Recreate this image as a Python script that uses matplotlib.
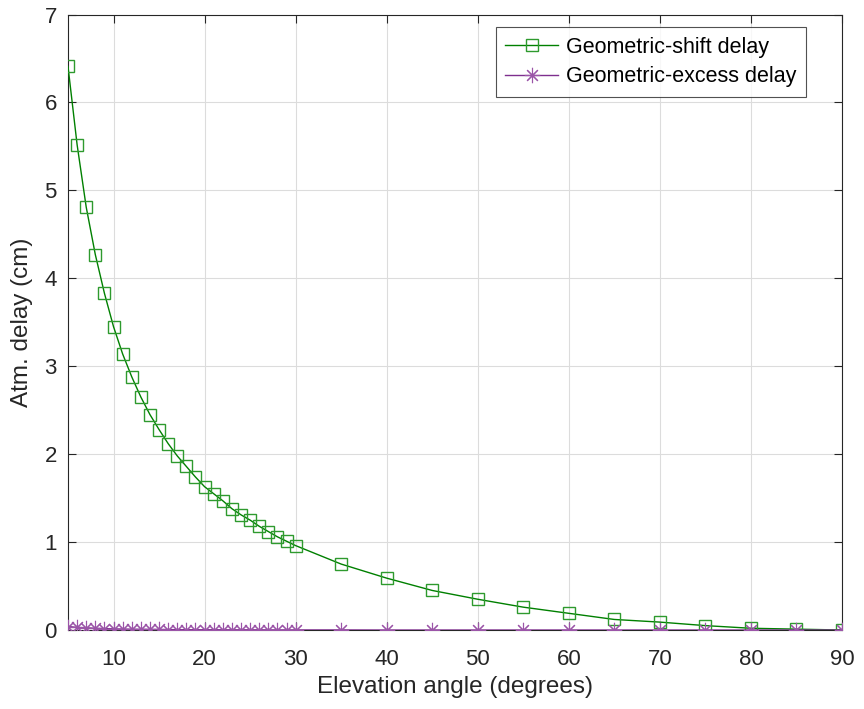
import matplotlib
matplotlib.use("Agg")
import matplotlib.pyplot as plt

plt.rcParams['font.family'] = ['Liberation Sans', 'DejaVu Sans']

elev = [5, 6, 7, 8, 9, 10, 11, 12, 13, 14, 15, 16, 17, 18, 19, 20, 21, 22, 23, 24,
        25, 26, 27, 28, 29, 30, 35, 40, 45, 50, 55, 60, 65, 70, 75, 80, 85, 90]
shift_delay = [6.41, 5.52, 4.81, 4.27, 3.83, 3.45, 3.14, 2.88, 2.65, 2.45, 2.28, 2.12,
               1.98, 1.86, 1.74, 1.63, 1.55, 1.47, 1.38, 1.31, 1.25, 1.18, 1.12, 1.06,
               1.01, 0.96, 0.75, 0.59, 0.45, 0.35, 0.26, 0.19, 0.12, 0.09, 0.05, 0.02,
               0.01, 0.0]
excess_delay = [0.04, 0.03, 0.025, 0.02, 0.016, 0.013, 0.011, 0.009, 0.008, 0.007,
                0.006, 0.005, 0.004, 0.004, 0.003, 0.003, 0.003, 0.002, 0.002, 0.002,
                0.002, 0.002, 0.001, 0.001, 0.001, 0.001, 0.001, 0.0, 0.0, 0.0, 0.0,
                0.0, 0.0, 0.0, 0.0, 0.0, 0.0, 0.0]
xticks = [10, 20, 30, 40, 50, 60, 70, 80, 90]
yticks = [0, 1, 2, 3, 4, 5, 6, 7]

fig = plt.figure(figsize=(8.64, 7.09), dpi=100)
ax = fig.add_axes([0.0787, 0.1114, 0.9745 - 0.0787, 0.9795 - 0.1114])

green = '#008000'
purple = '#7E2F8E'
ax.plot(elev, shift_delay, color=green, lw=1.0, marker='s', markersize=8.5,
        markerfacecolor='none', markeredgecolor='#2e9a2e', markeredgewidth=1.0,
        label='Geometric-shift delay', zorder=3)
ax.plot(elev, excess_delay, color=purple, lw=1.0, marker=(8, 2, 0), markersize=11,
        markerfacecolor='none', markeredgecolor='#9b55a8', markeredgewidth=0.8,
        label='Geometric-excess delay', zorder=3)

ax.set_xlim(5, 90)
ax.set_ylim(0, 7)
ax.set_xticks(xticks)
ax.set_yticks(yticks)
ax.grid(True, color='#dcdcdc', lw=0.8)
ax.set_axisbelow(True)
dark = '#262626'
ax.tick_params(direction='in', top=True, right=True, labelsize=16, colors=dark,
               length=6, width=0.8)
ax.tick_params(axis='x', pad=14)
ax.tick_params(axis='y', pad=8)
for s in ax.spines.values():
    s.set_color(dark)
    s.set_linewidth(0.8)
ax.set_xlabel('Elevation angle (degrees)', fontsize=17.5, color=dark, labelpad=4)
ax.set_ylabel('Atm. delay (cm)', fontsize=17.5, color=dark, labelpad=8)

leg = ax.legend(loc='upper right', bbox_to_anchor=(0.9535, 0.9797),
                fontsize=15.5, frameon=True, fancybox=False,
                edgecolor=dark, borderaxespad=0.0, handlelength=2.45,
                labelspacing=0.4, borderpad=0.45, handletextpad=0.37)
leg.get_frame().set_linewidth(0.8)

fig.savefig('out.png', dpi=100)
